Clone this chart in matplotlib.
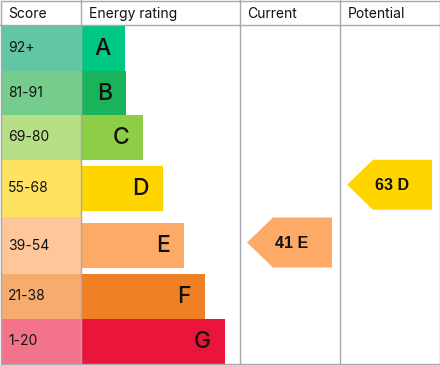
import matplotlib
matplotlib.use("Agg")
import matplotlib.pyplot as plt
from matplotlib.patches import Polygon, Rectangle

# data
bands = ["A", "B", "C", "D", "E", "F", "G"]
score_labels = ["92+", "81-91", "69-80", "55-68", "39-54", "21-38", "1-20"]
band_min = [92, 81, 69, 55, 39, 21, 1]
current_score = 41
potential_score = 63
headers = ["Score", "Energy rating", "Current", "Potential"]

# style
score_colors = ["#63c6a3", "#74cc8d", "#b6df86", "#ffe262", "#ffc69a", "#f6ac6f", "#f3748a"]
bar_colors = ["#00c781", "#19b459", "#8dce46", "#ffd500", "#fcaa65", "#ef8023", "#e9153b"]
line_col = "#a8a8b2"

# layout (pixel units)
W, H = 440, 365
col_x = [0, 81, 240, 340, 440]
row_top = [25.5, 70.5, 115, 159.5, 217, 274, 318.5]
row_bot = [70.5, 115, 159.5, 217, 274, 318.5, 363.5]
bar_inset = [0, 0, 0, 6, 6, 0, 0]
bar_len = [44, 45, 62, 82, 103, 124, 144]

fig = plt.figure(figsize=(W / 100, H / 100), dpi=100)
ax = fig.add_axes([0, 0, 1, 1])
ax.set_xlim(0, W)
ax.set_ylim(H, 0)
ax.axis("off")

font = "Inter"

for i, b in enumerate(bands):
    top, bot = row_top[i], row_bot[i]
    ax.add_patch(Rectangle((1, top), col_x[1] - 1, bot - top, color=score_colors[i], lw=0))
    ax.text(8, (top + bot) / 2, score_labels[i], fontsize=10, family=font,
            va="center", ha="left", color="#111111")
    bt, bb = top + bar_inset[i], bot - bar_inset[i]
    ax.barh((bt + bb) / 2, bar_len[i], height=bb - bt, left=col_x[1],
            color=bar_colors[i], lw=0)
    ax.text(col_x[1] + bar_len[i] - 14, (bt + bb) / 2 + 1, b, fontsize=16.5, family=font,
            weight="medium", va="center", ha="right", color="#111111")


def band_of(score):
    for i, m in enumerate(band_min):
        if score >= m:
            return i
    return len(bands) - 1


def arrow(score, x0, x1, dy):
    i = band_of(score)
    yc = (row_top[i] + row_bot[i]) / 2 + dy
    h = 50
    tip = 26
    pts = [(x0, yc), (x0 + tip, yc - h / 2), (x1, yc - h / 2), (x1, yc + h / 2), (x0 + tip, yc + h / 2)]
    ax.add_patch(Polygon(pts, closed=True, color=bar_colors[i], lw=0))
    ax.text((x0 + x1) / 2 + 2.5, yc + 1, f"{score} {bands[i]}", fontsize=11.5,
            family="Liberation Sans", weight="bold", ha="center", va="center", color="#111111")


arrow(current_score, 247, 332, -3)
arrow(potential_score, 347, 432, -3.5)

# grid lines
for x in col_x[1:4]:
    ax.plot([x, x], [0, H], color=line_col, lw=1)
ax.plot([0, W], [25, 25], color=line_col, lw=1)
ax.add_patch(Rectangle((0.5, 0.5), W - 1, H - 1.5, fill=False, ec=line_col, lw=1))

hx = [8, 89, 247, 348]
for x, t in zip(hx, headers):
    ax.text(x, 14, t, fontsize=10, family=font, va="center", ha="left", color="#111111")

fig.savefig("out.png", dpi=100)
